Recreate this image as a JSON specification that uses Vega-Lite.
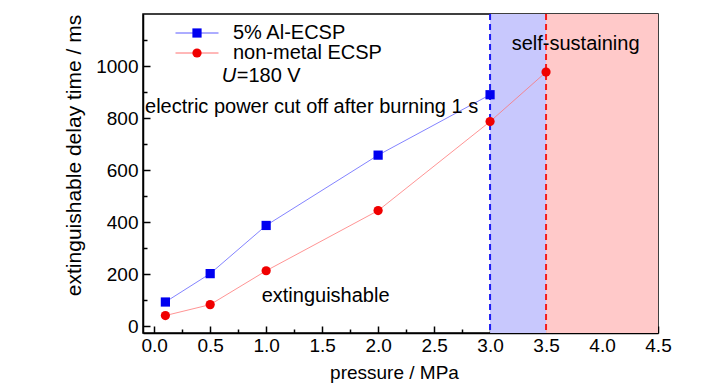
{
  "$schema": "https://vega.github.io/schema/vega-lite/v6.json",
  "width": 515,
  "height": 319,
  "autosize": "none",
  "padding": {"left": 143, "top": 14, "right": 70, "bottom": 57},
  "background": "white",
  "config": {
    "font": "Liberation Sans",
    "view": {"stroke": "black", "strokeWidth": 1.5},
    "axis": {
      "grid": false,
      "domainColor": "black",
      "domainWidth": 1.5,
      "tickColor": "black",
      "tickWidth": 1.5,
      "labelColor": "black",
      "titleColor": "black",
      "labelFont": "Liberation Sans",
      "titleFont": "Liberation Sans",
      "labelFontSize": 19,
      "titleFontSize": 19,
      "titleFontWeight": "normal",
      "labelOverlap": false,
      "labelFlush": false
    },
    "legend": {
      "labelFont": "Liberation Sans",
      "labelFontSize": 20,
      "labelColor": "black",
      "labelLimit": 300,
      "rowPadding": 0,
      "padding": 0,
      "orient": "none"
    }
  },
  "resolve": {"axis": {"x": "independent", "y": "independent"}},
  "datasets": {
    "measurements": [
      {"pressure": 0.1, "delay": 94, "series": "5% Al-ECSP"},
      {"pressure": 0.5, "delay": 203, "series": "5% Al-ECSP"},
      {"pressure": 1.0, "delay": 388, "series": "5% Al-ECSP"},
      {"pressure": 2.0, "delay": 658, "series": "5% Al-ECSP"},
      {"pressure": 3.0, "delay": 890, "series": "5% Al-ECSP"},
      {"pressure": 0.1, "delay": 42, "series": "non-metal ECSP"},
      {"pressure": 0.5, "delay": 84, "series": "non-metal ECSP"},
      {"pressure": 1.0, "delay": 214, "series": "non-metal ECSP"},
      {"pressure": 2.0, "delay": 445, "series": "non-metal ECSP"},
      {"pressure": 3.0, "delay": 787, "series": "non-metal ECSP"},
      {"pressure": 3.5, "delay": 977, "series": "non-metal ECSP"}
    ],
    "regions": [
      {"start": 3.0, "end": 3.5, "zone": "transition"},
      {"start": 3.5, "end": 4.5, "zone": "self-sustaining"}
    ],
    "notes": [
      {"px": 3.193, "py": 1084, "label": "self-sustaining"},
      {"px": -0.082, "py": 841, "label": "electric power cut off after burning 1 s"},
      {"px": 0.96, "py": 117, "label": "extinguishable"},
      {"px": 0.737, "py": 963, "label": "=180 V"}
    ],
    "italic": [
      {"px": 0.603, "py": 963, "label": "U"}
    ]
  },
  "layer": [
    {
      "data": {"name": "regions"},
      "mark": {"type": "rect"},
      "encoding": {
        "x": {"field": "start", "type": "quantitative", "axis": null},
        "x2": {"field": "end"},
        "fill": {
          "condition": {"test": "datum.zone === 'transition'", "value": "#c8c8fd"},
          "value": "#ffc9c9"
        }
      }
    },
    {
      "data": {"name": "regions"},
      "mark": {"type": "rule", "strokeWidth": 2, "strokeDash": [6, 4]},
      "encoding": {
        "x": {"field": "start", "type": "quantitative", "axis": null},
        "stroke": {
          "condition": {"test": "datum.zone === 'transition'", "value": "#1c1cf5"},
          "value": "#f51c1c"
        }
      }
    },
    {
      "data": {"name": "measurements"},
      "mark": {"type": "line", "strokeWidth": 1, "strokeOpacity": 0.75},
      "encoding": {
        "x": {
          "field": "pressure",
          "type": "quantitative",
          "scale": {"domain": [-0.1, 4.5], "nice": false, "zero": false},
          "axis": {
            "orient": "bottom",
            "title": "pressure / MPa",
            "values": [0, 0.5, 1, 1.5, 2, 2.5, 3, 3.5, 4, 4.5],
            "format": ".1f",
            "tickSize": -7,
            "labelPadding": 10,
            "titleX": 251,
            "titleY": 30,
            "titleBaseline": "top"
          }
        },
        "y": {
          "field": "delay",
          "type": "quantitative",
          "scale": {"domain": [-25, 1200], "nice": false, "zero": false},
          "axis": {
            "orient": "left",
            "title": "extinguishable delay time / ms",
            "titleFontSize": 21,
            "values": [0, 200, 400, 600, 800, 1000],
            "format": "d",
            "tickSize": -7,
            "labelPadding": 12,
            "titleX": -69,
            "titleY": 141,
            "titleBaseline": "middle"
          }
        },
        "stroke": {
          "field": "series",
          "type": "nominal",
          "scale": {"domain": ["5% Al-ECSP", "non-metal ECSP"], "range": ["#5a5aff", "#ff7070"]},
          "legend": {
            "title": null,
            "legendX": 44,
            "legendY": 9,
            "symbolType": "M-4.3,0H4.3",
            "symbolSize": 100,
            "symbolStrokeWidth": 1,
            "labelOffset": 26,
            "zindex": 1
          }
        }
      }
    },
    {
      "data": {"name": "measurements"},
      "mark": {"type": "point", "filled": true, "size": 85, "opacity": 1, "strokeWidth": 0},
      "encoding": {
        "x": {
          "field": "pressure",
          "type": "quantitative",
          "axis": {
            "orient": "bottom",
            "values": [0.25, 0.75, 1.25, 1.75, 2.25, 2.75, 3.25, 3.75, 4.25],
            "tickSize": -4,
            "labels": false,
            "domain": false,
            "title": null
          }
        },
        "y": {
          "field": "delay",
          "type": "quantitative",
          "axis": {
            "orient": "left",
            "values": [100, 300, 500, 700, 900, 1100],
            "tickSize": -4,
            "labels": false,
            "domain": false,
            "title": null
          }
        },
        "fill": {
          "field": "series",
          "type": "nominal",
          "scale": {"range": ["#0000f0", "#f00000"]},
          "legend": {
            "title": null,
            "legendX": 44,
            "legendY": 9,
            "symbolSize": 85,
            "symbolStrokeWidth": 0,
            "labelOpacity": 0,
            "labelOffset": 26,
            "zindex": 2
          }
        },
        "shape": {
          "field": "series",
          "type": "nominal",
          "scale": {"range": ["square", "circle"]},
          "legend": {
            "title": null,
            "legendX": 44,
            "legendY": 9,
            "symbolSize": 85,
            "symbolStrokeWidth": 0,
            "labelOpacity": 0,
            "labelOffset": 26,
            "zindex": 2
          }
        }
      }
    },
    {
      "data": {"name": "notes"},
      "mark": {"type": "text", "align": "left", "baseline": "middle", "fontSize": 20, "font": "Liberation Sans", "color": "black"},
      "encoding": {
        "x": {"field": "px", "type": "quantitative", "axis": null},
        "y": {"field": "py", "type": "quantitative", "axis": null},
        "text": {"field": "label"}
      }
    },
    {
      "data": {"name": "italic"},
      "mark": {"type": "text", "align": "left", "baseline": "middle", "fontSize": 20, "font": "Liberation Sans", "fontStyle": "italic", "color": "black"},
      "encoding": {
        "x": {"field": "px", "type": "quantitative", "axis": null},
        "y": {"field": "py", "type": "quantitative", "axis": null},
        "text": {"field": "label"}
      }
    }
  ]
}
